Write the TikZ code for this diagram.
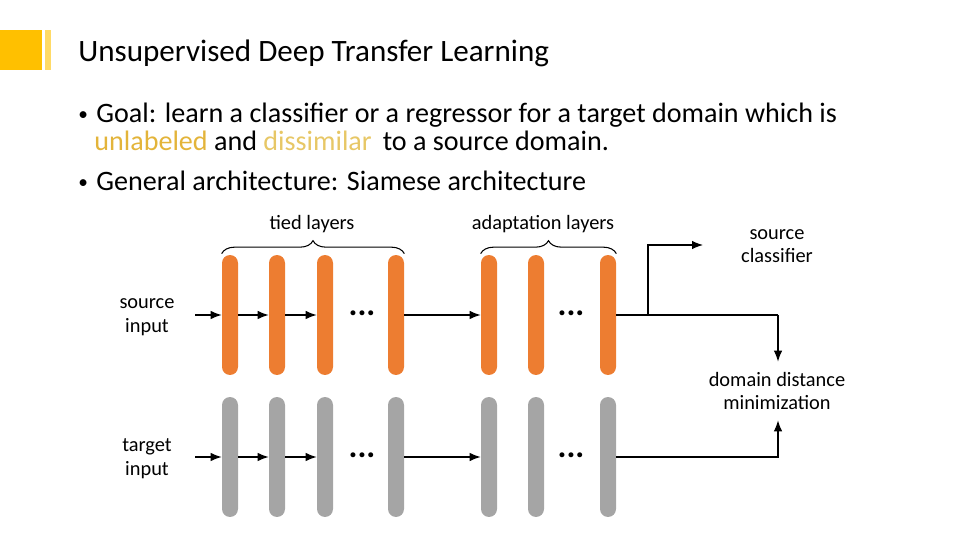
\documentclass[tikz,border=0pt]{standalone}
\usepackage{fontspec}
\setmainfont{Carlito}
\usetikzlibrary{calc}
\usetikzlibrary{arrows.meta}
\usetikzlibrary{decorations.pathreplacing}
\tikzset{>={Latex[length=2.2mm,width=1.7mm]}}
\definecolor{layerorange}{HTML}{ED7D31}
\definecolor{layergray}{HTML}{A5A5A5}
\definecolor{titlegold}{HTML}{FFC000}
\definecolor{barlight}{HTML}{FFDA66}
\definecolor{wordgold}{HTML}{E3B43A}
\definecolor{wordlight}{HTML}{E7C766}
\newcommand{\smallbullet}{{\fontsize{11}{12}\selectfont\raisebox{1.5pt}{•}}\hspace{0.3em}}
\tikzset{
  srclayer/.style={fill=layerorange,draw=none,rounded corners=0.16cm,minimum width=0.32cm,minimum height=2.4cm,inner sep=0pt},
  tgtlayer/.style={fill=layergray,draw=none,rounded corners=0.16cm,minimum width=0.32cm,minimum height=2.4cm,inner sep=0pt},
  lbl/.style={align=center,font=\fontsize{11.6}{13.5}\selectfont,inner sep=0pt},
  dots/.style={font=\fontsize{19}{20}\selectfont\bfseries,inner sep=0pt},
  bullettext/.style={anchor=base west,font=\fontsize{16}{19}\selectfont,inner sep=0pt},
  conn/.style={line width=0.6pt},
  brc/.style={decorate,decoration={brace,amplitude=0.26cm},line width=0.6pt}
}

\begin{document}
\begin{tikzpicture}[x=0.02cm,y=-0.02cm]
  \useasboundingbox (0,0) rectangle (960,540);

  % 标题
  \fill[titlegold] (0,30) rectangle (42,70);
  \fill[barlight] (45,30) rectangle (51,70);
  \node[anchor=base west,font=\fontsize{17.7}{21}\selectfont,inner sep=0pt] (title) at (78,62) {Unsupervised Deep Transfer Learning};

  % 要点
  \node[bullettext] (goalA) at (78,123) {\smallbullet Goal: learn a classifier or a regressor for a target domain which is};
  \node[bullettext] (goalB) at (94,151) {\textcolor{wordgold}{unlabeled} and \textcolor{wordlight}{dissimilar}\, to a source domain.};
  \node[bullettext] (arch) at (78,191) {\smallbullet General architecture: Siamese architecture};

  % 网络层
  \foreach \i/\x in {1/230,2/277,3/325,4/396,5/489,6/536,7/608} {
    \node[srclayer] (s\i) at (\x,315) {};
    \node[tgtlayer] (t\i) at (\x,457) {};
  }
  \node[dots] (sdotsA) at (362,313) {...};
  \node[dots] (sdotsB) at (571,313) {...};
  \node[dots] (tdotsA) at (362,455) {...};
  \node[dots] (tdotsB) at (571,455) {...};

  % 括号
  \draw[brc] (s1.north west) ++(0,-1) coordinate (tiedL) -- (s4.north east |- tiedL) coordinate (tiedR);
  \node[lbl] (tied) at (312,224) {tied layers};
  \draw[brc] (s5.north west) ++(0,-1) coordinate (adaptL) -- (s7.north east |- adaptL) coordinate (adaptR);
  \node[lbl] (adapt) at (543,224) {adaptation layers};

  % 输入
  \node[lbl] (srcin) at (147,317) {source\\input};
  \node[lbl] (tgtin) at (147,459) {target\\input};
  \coordinate (srcfrom) at (195,315);
  \coordinate (tgtfrom) at (195,457);
  \draw[conn,->] (srcfrom) -- (s1.west);
  \draw[conn,->] (tgtfrom) -- (t1.west);

  % 层间连接
  \draw[conn,->] (s1) -- (s2);
  \draw[conn,->] (s2) -- (s3);
  \draw[conn,->] (s4) -- (s5);
  \draw[conn,->] (t1) -- (t2);
  \draw[conn,->] (t2) -- (t3);
  \draw[conn,->] (t4) -- (t5);

  % 输出
  \node[lbl] (cls) at (777,246) {source\\classifier};
  \node[lbl] (dist) at (777,391) {domain distance\\minimization};
  \coordinate (split) at (648,315);
  \coordinate (turn) at (778,315);
  \coordinate (tturn) at (778,457);
  \coordinate (clsin) at (703,245);
  \draw[conn] (s7.east) -- (turn);
  \draw[conn,->] (turn) -- ([yshift=0.2cm]dist.north -| turn);
  \draw[conn,->] (split) |- (clsin);
  \draw[conn,->] (t7.east) -- (tturn) -- ([yshift=-0.2cm]dist.south -| tturn);
\end{tikzpicture}
\end{document}
